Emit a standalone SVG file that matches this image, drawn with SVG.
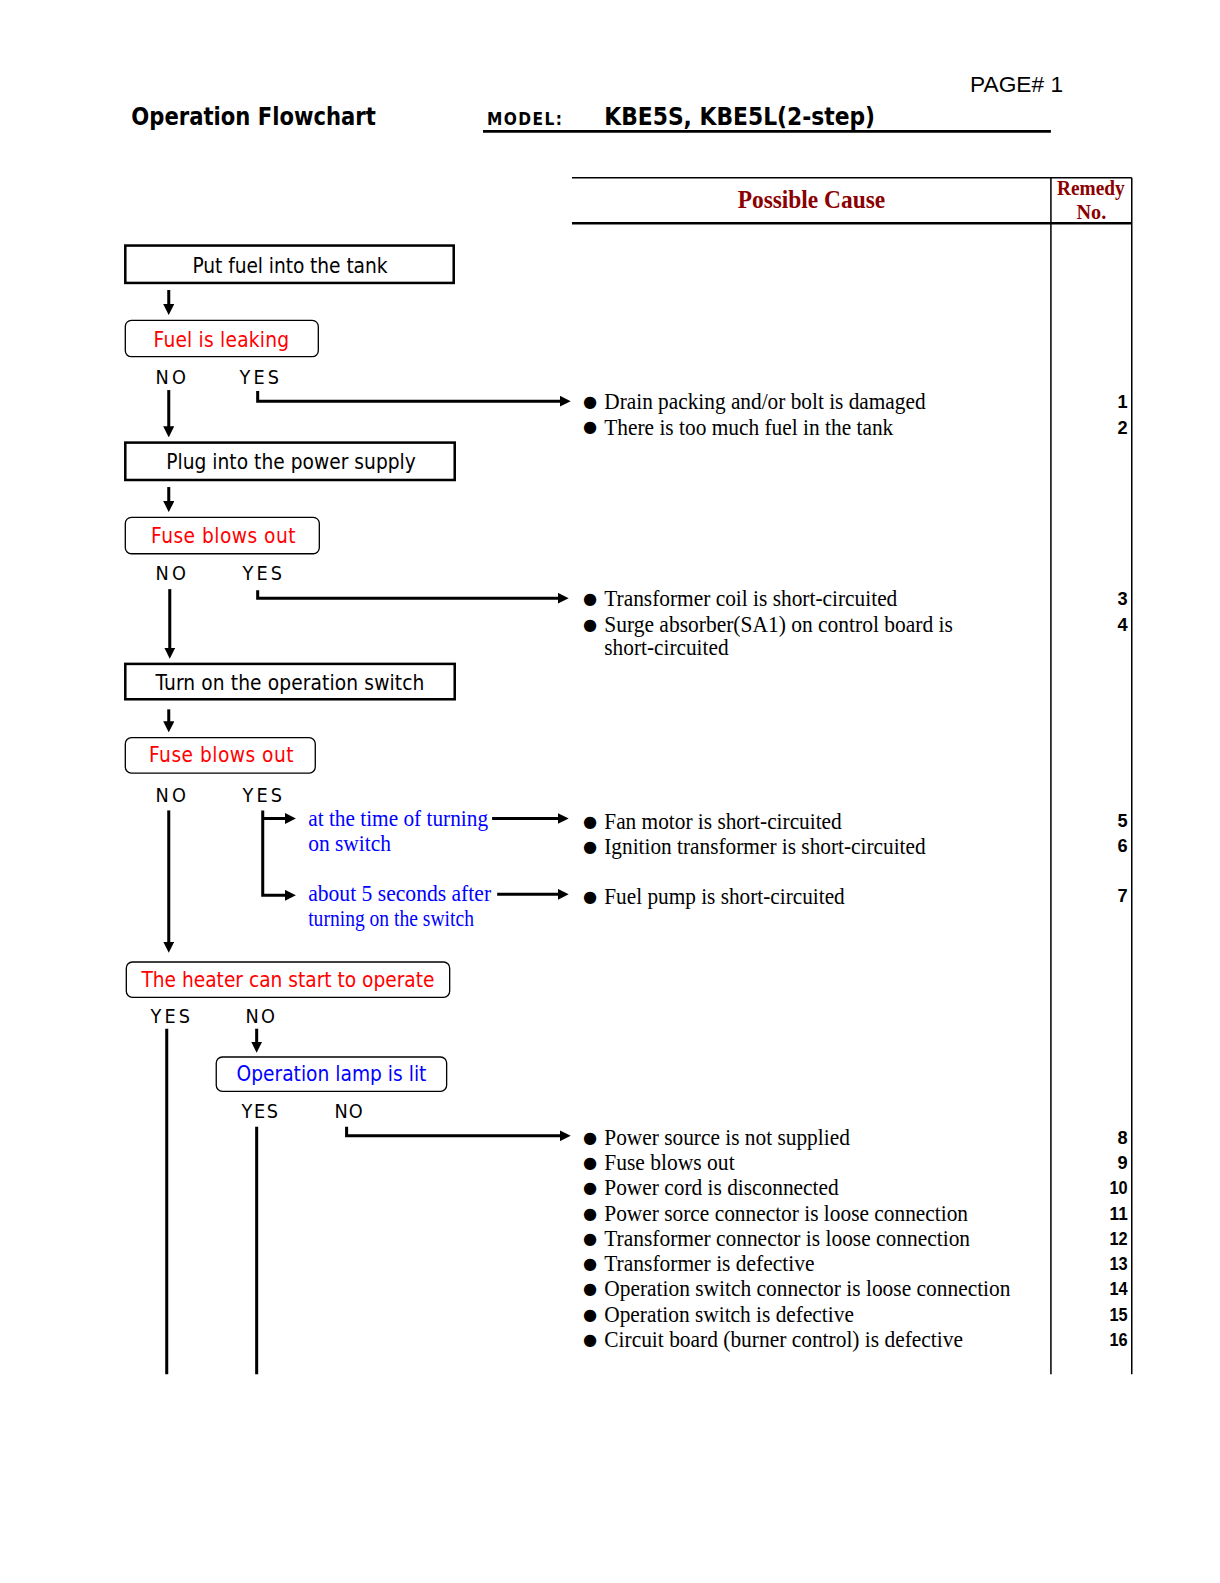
<svg xmlns="http://www.w3.org/2000/svg" width="1220" height="1583" viewBox="0 0 1220 1583">
<style>
.bg{fill:#fff}
.box{fill:#fff;stroke:#000;stroke-width:2.5}
.rbox{fill:#fff;stroke:#000;stroke-width:1.3}
.ft{font-family:"DejaVu Sans Condensed","DejaVu Sans",sans-serif;font-size:20.5px;text-anchor:middle}
.lbl{font-family:"DejaVu Sans Condensed","DejaVu Sans",sans-serif;font-size:19.5px;fill:#000}
.red{fill:#ff0000}
.blk{fill:#000}
.blue{fill:#0000ff}
.ser{font-family:"Liberation Serif","Times New Roman",serif;font-size:23px}
.bul{font-family:"DejaVu Sans",sans-serif;font-size:16px}
.num{font-family:"Liberation Sans",Arial,sans-serif;font-size:18px;font-weight:bold;text-anchor:end}
.hd{font-family:"Liberation Serif","Times New Roman",serif;font-weight:bold;fill:#8b0000}
.ln{fill:none;stroke:#000;stroke-width:3}
.tl{fill:none;stroke:#000;stroke-width:1.5}
</style>
<defs>
<marker id="ah" viewBox="0 0 10 10" refX="2" refY="5" markerWidth="11" markerHeight="11" markerUnits="userSpaceOnUse" orient="auto">
<path d="M0,0 L10,5 L0,10 z" fill="#000"/>
</marker>
</defs>
<rect class="bg" x="0" y="0" width="1220" height="1583"/>
<g transform="scale(1.0105)">
<g id="header">
<text x="960" y="91" font-family="Liberation Sans,Arial,sans-serif" font-size="22" textLength="92" lengthAdjust="spacingAndGlyphs">PAGE# 1</text>
<text x="130" y="124" font-family="DejaVu Sans Condensed,DejaVu Sans,sans-serif" font-weight="bold" font-size="24" textLength="242" lengthAdjust="spacingAndGlyphs">Operation Flowchart</text>
<text x="482" y="124" font-family="DejaVu Sans Condensed,DejaVu Sans,sans-serif" font-weight="bold" font-size="17" textLength="74" lengthAdjust="spacing">MODEL:</text>
<text x="598" y="124" font-family="DejaVu Sans Condensed,DejaVu Sans,sans-serif" font-weight="bold" font-size="24" textLength="268" lengthAdjust="spacingAndGlyphs">KBE5S, KBE5L(2-step)</text>
<line x1="478" y1="130" x2="1040" y2="130" stroke="#000" stroke-width="2.5"/>
</g>

<g id="table">
<line class="tl" x1="566" y1="176" x2="1120" y2="176"/>
<line x1="566" y1="221" x2="1120" y2="221" stroke="#000" stroke-width="2.5"/>
<line class="tl" x1="1040" y1="176" x2="1040" y2="1360"/>
<line class="tl" x1="1120" y1="176" x2="1120" y2="1360"/>
<text class="hd" x="730" y="206" font-size="24" textLength="146" lengthAdjust="spacingAndGlyphs">Possible Cause</text>
<text class="hd" x="1046" y="193" font-size="20" textLength="67" lengthAdjust="spacingAndGlyphs">Remedy</text>
<text class="hd" x="1080" y="217" font-size="20" text-anchor="middle">No.</text>
</g>

<g id="n1">
<rect class="box" x="124" y="243" width="325" height="37"/>
<text class="ft blk" x="287" y="270" textLength="193" lengthAdjust="spacing">Put fuel into the tank</text>
</g>
<g id="n2">
<rect class="rbox" x="124" y="317" width="191" height="36" rx="6"/>
<text class="ft red" x="219" y="343" textLength="134" lengthAdjust="spacing">Fuel is leaking</text>
<text class="lbl" x="154" y="380" textLength="30" lengthAdjust="spacing">NO</text>
<text class="lbl" x="237" y="380" textLength="39" lengthAdjust="spacing">YES</text>
</g>
<g id="n3">
<rect class="box" x="124" y="438" width="326" height="37"/>
<text class="ft blk" x="288" y="464" textLength="247" lengthAdjust="spacing">Plug into the power supply</text>
</g>
<g id="n4">
<rect class="rbox" x="124" y="512" width="192" height="36" rx="6"/>
<text class="ft red" x="221" y="537" textLength="143" lengthAdjust="spacing">Fuse blows out</text>
<text class="lbl" x="154" y="574" textLength="30" lengthAdjust="spacing">NO</text>
<text class="lbl" x="240" y="574" textLength="39" lengthAdjust="spacing">YES</text>
</g>
<g id="n5">
<rect class="box" x="124" y="657" width="326" height="35"/>
<text class="ft blk" x="287" y="683" textLength="266" lengthAdjust="spacing">Turn on the operation switch</text>
</g>
<g id="n6">
<rect class="rbox" x="124" y="730" width="188" height="35" rx="6"/>
<text class="ft red" x="219" y="754" textLength="143" lengthAdjust="spacing">Fuse blows out</text>
<text class="lbl" x="154" y="794" textLength="30" lengthAdjust="spacing">NO</text>
<text class="lbl" x="240" y="794" textLength="39" lengthAdjust="spacing">YES</text>
</g>
<g id="n6b">
<text class="ser blue" x="305" y="817" textLength="178" lengthAdjust="spacingAndGlyphs">at the time of turning</text>
<text class="ser blue" x="305" y="842" textLength="82" lengthAdjust="spacingAndGlyphs">on switch</text>
<text class="ser blue" x="305" y="892" textLength="181" lengthAdjust="spacingAndGlyphs">about 5 seconds after</text>
<text class="ser blue" x="305" y="916" textLength="164" lengthAdjust="spacingAndGlyphs">turning on the switch</text>
</g>
<g id="n7">
<rect class="rbox" x="125" y="952" width="320" height="35" rx="6"/>
<text class="ft red" x="285" y="977" textLength="290" lengthAdjust="spacing">The heater can start to operate</text>
<text class="lbl" x="149" y="1012" textLength="39" lengthAdjust="spacing">YES</text>
<text class="lbl" x="243" y="1012" textLength="29" lengthAdjust="spacing">NO</text>
</g>
<g id="n8">
<rect class="rbox" x="214" y="1046" width="228" height="34" rx="6"/>
<text class="ft blue" x="328" y="1070" textLength="188" lengthAdjust="spacing">Operation lamp is lit</text>
<text class="lbl" x="239" y="1106" textLength="36" lengthAdjust="spacing">YES</text>
<text class="lbl" x="331" y="1106" textLength="28" lengthAdjust="spacing">NO</text>
</g>

<g id="connectors">
<path class="ln" d="M167,287 V303" marker-end="url(#ah)"/>
<path class="ln" d="M167,386 V424" marker-end="url(#ah)"/>
<path class="ln" d="M255,387 V397 H556" marker-end="url(#ah)"/>
<path class="ln" d="M167,482 V498" marker-end="url(#ah)"/>
<path class="ln" d="M168,583 V643" marker-end="url(#ah)"/>
<path class="ln" d="M255,584 V592 H554" marker-end="url(#ah)"/>
<path class="ln" d="M167,702 V716" marker-end="url(#ah)"/>
<path class="ln" d="M167,802 V934" marker-end="url(#ah)"/>
<path class="ln" d="M260,802 V886 H284" marker-end="url(#ah)"/>
<path class="ln" d="M260,810 H284" marker-end="url(#ah)"/>
<path class="ln" d="M487,810 H554" marker-end="url(#ah)"/>
<path class="ln" d="M492,885 H554" marker-end="url(#ah)"/>
<path class="ln" d="M165,1018 V1360"/>
<path class="ln" d="M254,1018 V1033" marker-end="url(#ah)"/>
<path class="ln" d="M254,1115 V1360"/>
<path class="ln" d="M343,1115 V1124 H556" marker-end="url(#ah)"/>
</g>

<g id="causes">
<g class="bul blk">
<text x="577" y="403">●</text>
<text x="577" y="428">●</text>
<text x="577" y="598">●</text>
<text x="577" y="623">●</text>
<text x="577" y="818">●</text>
<text x="577" y="843">●</text>
<text x="577" y="893">●</text>
<text x="577" y="1131">●</text>
<text x="577" y="1156">●</text>
<text x="577" y="1181">●</text>
<text x="577" y="1206">●</text>
<text x="577" y="1231">●</text>
<text x="577" y="1256">●</text>
<text x="577" y="1281">●</text>
<text x="577" y="1306">●</text>
<text x="577" y="1331">●</text>
</g>
<g class="ser blk">
<text x="598" y="405" textLength="318" lengthAdjust="spacingAndGlyphs">Drain packing and/or bolt is damaged</text>
<text x="598" y="430" textLength="286" lengthAdjust="spacingAndGlyphs">There is too much fuel in the tank</text>
<text x="598" y="600" textLength="290" lengthAdjust="spacingAndGlyphs">Transformer coil is short-circuited</text>
<text x="598" y="625" textLength="345" lengthAdjust="spacingAndGlyphs">Surge absorber(SA1) on control board is</text>
<text x="598" y="648" textLength="123" lengthAdjust="spacingAndGlyphs">short-circuited</text>
<text x="598" y="820" textLength="235" lengthAdjust="spacingAndGlyphs">Fan motor is short-circuited</text>
<text x="598" y="845" textLength="318" lengthAdjust="spacingAndGlyphs">Ignition transformer is short-circuited</text>
<text x="598" y="895" textLength="238" lengthAdjust="spacingAndGlyphs">Fuel pump is short-circuited</text>
<text x="598" y="1133" textLength="243" lengthAdjust="spacingAndGlyphs">Power source is not supplied</text>
<text x="598" y="1158" textLength="129" lengthAdjust="spacingAndGlyphs">Fuse blows out</text>
<text x="598" y="1183" textLength="232" lengthAdjust="spacingAndGlyphs">Power cord is disconnected</text>
<text x="598" y="1208" textLength="360" lengthAdjust="spacingAndGlyphs">Power sorce connector is loose connection</text>
<text x="598" y="1233" textLength="362" lengthAdjust="spacingAndGlyphs">Transformer connector is loose connection</text>
<text x="598" y="1258" textLength="208" lengthAdjust="spacingAndGlyphs">Transformer is defective</text>
<text x="598" y="1283" textLength="402" lengthAdjust="spacingAndGlyphs">Operation switch connector is loose connection</text>
<text x="598" y="1308" textLength="247" lengthAdjust="spacingAndGlyphs">Operation switch is defective</text>
<text x="598" y="1333" textLength="355" lengthAdjust="spacingAndGlyphs">Circuit board (burner control) is defective</text>
</g>
</g>

<g id="remedy" class="num">
<text x="1116" y="404">1</text>
<text x="1116" y="429">2</text>
<text x="1116" y="599">3</text>
<text x="1116" y="624">4</text>
<text x="1116" y="818">5</text>
<text x="1116" y="843">6</text>
<text x="1116" y="893">7</text>
<text x="1116" y="1132">8</text>
<text x="1116" y="1157">9</text>
<text x="1116" y="1182" textLength="18" lengthAdjust="spacingAndGlyphs">10</text>
<text x="1116" y="1207" textLength="18" lengthAdjust="spacingAndGlyphs">11</text>
<text x="1116" y="1232" textLength="18" lengthAdjust="spacingAndGlyphs">12</text>
<text x="1116" y="1257" textLength="18" lengthAdjust="spacingAndGlyphs">13</text>
<text x="1116" y="1282" textLength="18" lengthAdjust="spacingAndGlyphs">14</text>
<text x="1116" y="1307" textLength="18" lengthAdjust="spacingAndGlyphs">15</text>
<text x="1116" y="1332" textLength="18" lengthAdjust="spacingAndGlyphs">16</text>
</g>
</g>
</svg>
